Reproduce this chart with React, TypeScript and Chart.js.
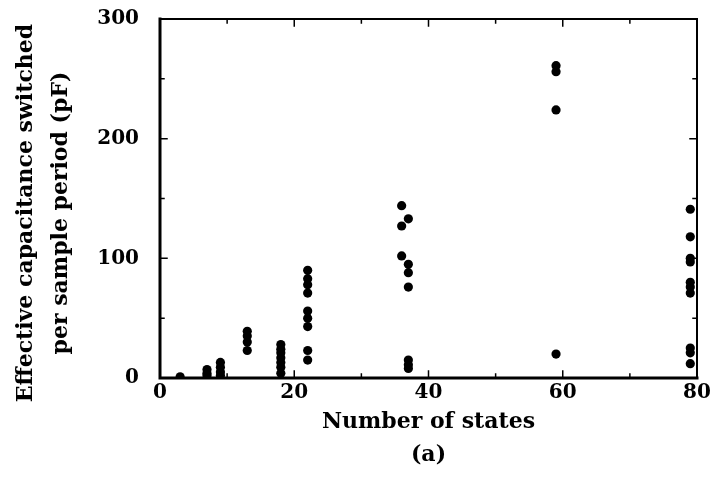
import React, { useEffect, useRef } from "react";
import { Chart, registerables } from "chart.js";

Chart.register(...registerables);

const STATES = [3, 7, 7, 7, 9, 9, 9, 9, 13, 13, 13, 13, 18, 18, 18, 18, 18, 18, 18, 22, 22, 22, 22, 22, 22, 22, 22, 22, 36, 36, 36, 37, 37, 37, 37, 37, 37, 37, 59, 59, 59, 59, 79, 79, 79, 79, 79, 79, 79, 79, 79, 79];
const CAPACITANCE = [1, 7, 4, 2, 13, 9, 5, 2, 39, 35, 30, 23, 28, 24, 21, 17, 13, 9, 4, 90, 83, 78, 71, 56, 50, 43, 23, 15, 144, 127, 102, 133, 95, 88, 76, 15, 11, 8, 261, 256, 224, 20, 141, 118, 100, 97, 80, 76, 71, 25, 21, 12];
const X_TICKS = [0, 10, 20, 30, 40, 50, 60, 70, 80];
const Y_TICKS = [0, 50, 100, 150, 200, 250, 300];
const X_TITLE = ["Number of states", "(a)"];
const Y_TITLE = ["Effective capacitance switched", "per sample period (pF)"];

const FONT = "'DejaVu Serif', serif";

const framePlugin = {
  id: "frame",
  afterDatasetsDraw(chart: any) {
    const { ctx, chartArea, scales } = chart;
    const { left, right, top, bottom } = chartArea;
    const x = scales.x;
    const y = scales.y;
    ctx.save();
    ctx.strokeStyle = "#000";
    ctx.lineCap = "square";
    ctx.lineWidth = 2;
    ctx.beginPath();
    ctx.moveTo(left, top);
    ctx.lineTo(right, top);
    ctx.lineTo(right, bottom);
    ctx.stroke();
    ctx.lineWidth = 3;
    ctx.beginPath();
    ctx.moveTo(left, top);
    ctx.lineTo(left, bottom);
    ctx.lineTo(right, bottom);
    ctx.stroke();
    ctx.lineWidth = 1.5;
    X_TICKS.forEach((v) => {
      const px = x.getPixelForValue(v);
      const len = v % 20 === 0 ? 7 : 4;
      ctx.beginPath();
      ctx.moveTo(px, bottom);
      ctx.lineTo(px, bottom - len);
      ctx.moveTo(px, top);
      ctx.lineTo(px, top + len);
      ctx.stroke();
    });
    Y_TICKS.forEach((v) => {
      const py = y.getPixelForValue(v);
      const len = v % 100 === 0 ? 7 : 4;
      ctx.beginPath();
      ctx.moveTo(left, py);
      ctx.lineTo(left + len, py);
      ctx.moveTo(right, py);
      ctx.lineTo(right - len, py);
      ctx.stroke();
    });
    // y-axis title (two lines, rotated)
    ctx.fillStyle = "#000";
    ctx.font = `bold 22px ${FONT}`;
    ctx.textAlign = "center";
    ctx.textBaseline = "middle";
    const cy = 213;
    const xs = [26, 61];
    Y_TITLE.forEach((line, i) => {
      ctx.save();
      ctx.translate(xs[i], cy);
      ctx.rotate(-Math.PI / 2);
      ctx.fillText(line, 0, 0);
      ctx.restore();
    });
    ctx.restore();
  },
};

export default function App() {
  const ref = useRef<HTMLCanvasElement | null>(null);
  useEffect(() => {
    if (!ref.current) return;
    const points = STATES.map((s, i) => ({ x: s, y: CAPACITANCE[i] }));
    const chart = new Chart(ref.current, {
      type: "scatter",
      data: {
        datasets: [
          {
            data: points,
            backgroundColor: "#000",
            borderColor: "#000",
            pointRadius: 4.6,
            pointBorderWidth: 0,
          },
        ],
      },
      options: {
        animation: false,
        responsive: false,
        devicePixelRatio: 1,
        layout: { padding: { top: 19, right: 17, left: 0, bottom: 0 } },
        plugins: { legend: { display: false }, tooltip: { enabled: false } },
        scales: {
          x: {
            type: "linear",
            min: 0,
            max: 80,
            grid: { display: false },
            border: { display: false },
            ticks: {
              stepSize: 10,
              autoSkip: false,
              maxRotation: 0,
              padding: -5,
              color: "#000",
              font: { family: FONT, size: 20, weight: "bold" },
              callback: (v: any) => (Number(v) % 20 === 0 ? String(v) : ""),
            },
            title: {
              display: true,
              text: X_TITLE,
              color: "#000",
              font: { family: FONT, size: 22, weight: "bold", lineHeight: 1.5 },
              padding: { top: 2, bottom: 6 },
            },
            afterFit: (s: any) => {
              s.height = 100;
            },
          },
          y: {
            type: "linear",
            min: 0,
            max: 300,
            grid: { display: false },
            border: { display: false },
            ticks: {
              stepSize: 50,
              autoSkip: false,
              padding: 13,
              color: "#000",
              font: { family: FONT, size: 20, weight: "bold" },
              callback: (v: any) => (Number(v) % 100 === 0 ? String(v) : ""),
            },
            afterFit: (s: any) => {
              s.width = 160;
              s.paddingTop = 0;
              s.paddingBottom = 0;
            },
          },
        },
      },
      plugins: [framePlugin],
    });
    return () => chart.destroy();
  }, []);
  return (
    <div style={{ position: "absolute", left: 0, top: 0, width: 714, height: 478, background: "#fff" }}>
      <canvas ref={ref} width={714} height={478} />
    </div>
  );
}
